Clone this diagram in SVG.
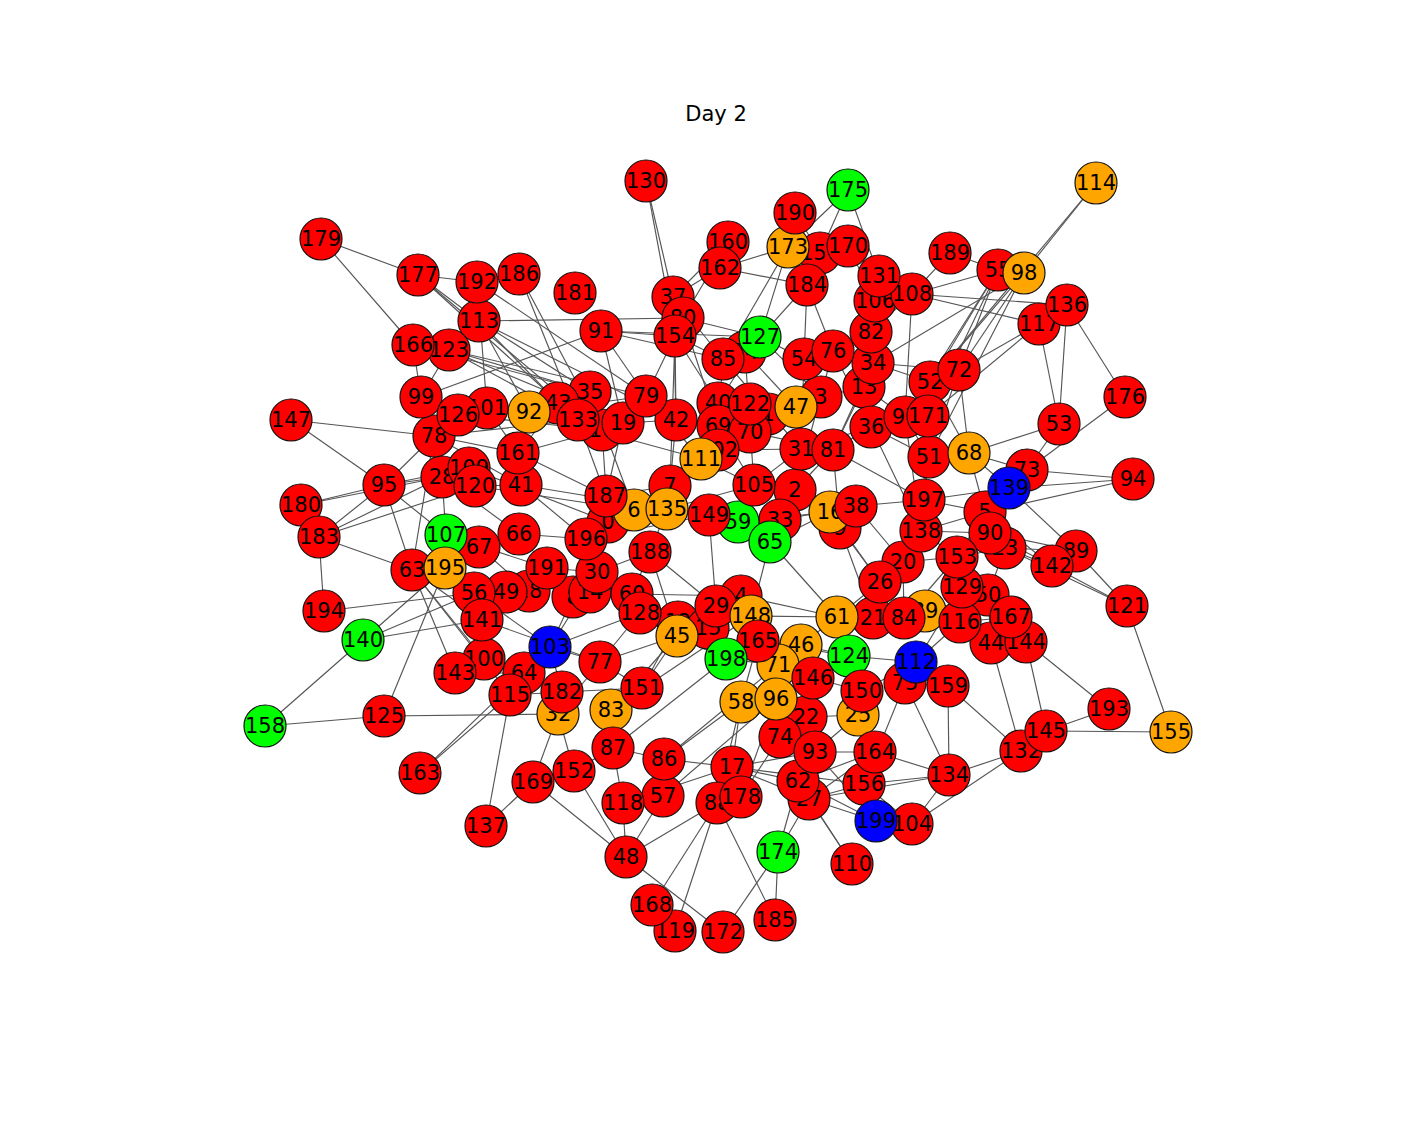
<svg xmlns="http://www.w3.org/2000/svg" width="1401" height="1121" viewBox="0 0 1401 1121">
<style>
.e line{stroke:#555;stroke-width:1.15}
.n circle{stroke:#111;stroke-width:1.2}
.n text{font-family:"DejaVu Sans",sans-serif;font-size:21px;text-anchor:middle;dominant-baseline:central;fill:#000}
.r{fill:#ff0000}.o{fill:#ffa500}.g{fill:#00ff00}.b{fill:#0000ff}
.t{font-family:"DejaVu Sans",sans-serif;font-size:21px;text-anchor:middle;dominant-baseline:central}
</style>
<rect width="1401" height="1121" fill="#fff"/>
<text class="t" x="716" y="114">Day 2</text>
<g class="e" id="edges">
<line x1="321" y1="239" x2="418" y2="275"/><line x1="321" y1="239" x2="413" y2="345"/><line x1="418" y1="275" x2="477" y2="282"/><line x1="418" y1="275" x2="479" y2="321"/><line x1="418" y1="275" x2="578" y2="420"/><line x1="418" y1="275" x2="602" y2="430"/><line x1="413" y1="345" x2="421" y2="397"/><line x1="449" y1="350" x2="421" y2="397"/><line x1="449" y1="350" x2="646" y2="396"/><line x1="449" y1="350" x2="590" y2="392"/><line x1="421" y1="397" x2="601" y2="331"/><line x1="291" y1="420" x2="434" y2="436"/><line x1="291" y1="420" x2="384" y2="485"/><line x1="646" y1="181" x2="673" y2="297"/><line x1="646" y1="181" x2="675" y2="336"/><line x1="519" y1="274" x2="477" y2="282"/><line x1="519" y1="274" x2="602" y2="430"/><line x1="479" y1="321" x2="683" y2="318"/><line x1="479" y1="321" x2="558" y2="403"/><line x1="479" y1="321" x2="529" y2="412"/><line x1="477" y1="282" x2="487" y2="408"/><line x1="601" y1="331" x2="675" y2="336"/><line x1="601" y1="331" x2="646" y2="396"/><line x1="601" y1="331" x2="623" y2="423"/><line x1="519" y1="274" x2="578" y2="420"/><line x1="848" y1="190" x2="788" y2="247"/><line x1="848" y1="190" x2="879" y2="276"/><line x1="950" y1="253" x2="912" y2="294"/><line x1="807" y1="285" x2="804" y2="359"/><line x1="807" y1="285" x2="833" y2="351"/><line x1="807" y1="285" x2="720" y2="268"/><line x1="807" y1="285" x2="788" y2="247"/><line x1="912" y1="294" x2="905" y2="417"/><line x1="912" y1="294" x2="1039" y2="324"/><line x1="912" y1="294" x2="998" y2="270"/><line x1="1096" y1="183" x2="1024" y2="273"/><line x1="1096" y1="183" x2="930" y2="382"/><line x1="998" y1="270" x2="950" y2="253"/><line x1="1024" y1="273" x2="959" y2="370"/><line x1="1024" y1="273" x2="930" y2="382"/><line x1="998" y1="270" x2="928" y2="416"/><line x1="1067" y1="305" x2="1039" y2="324"/><line x1="1067" y1="305" x2="1059" y2="424"/><line x1="1039" y1="324" x2="1059" y2="424"/><line x1="1067" y1="305" x2="1125" y2="397"/><line x1="1125" y1="397" x2="1027" y2="470"/><line x1="1039" y1="324" x2="959" y2="370"/>
<line x1="384" y1="485" x2="301" y2="505"/><line x1="384" y1="485" x2="434" y2="436"/><line x1="384" y1="485" x2="319" y2="537"/><line x1="384" y1="485" x2="412" y2="570"/><line x1="384" y1="485" x2="446" y2="535"/><line x1="384" y1="485" x2="442" y2="477"/><line x1="319" y1="537" x2="324" y2="611"/><line x1="319" y1="537" x2="412" y2="570"/><line x1="319" y1="537" x2="442" y2="477"/><line x1="412" y1="570" x2="434" y2="436"/><line x1="324" y1="611" x2="474" y2="593"/><line x1="363" y1="640" x2="445" y2="568"/><line x1="363" y1="640" x2="482" y2="620"/><line x1="363" y1="640" x2="265" y2="726"/><line x1="412" y1="570" x2="455" y2="673"/><line x1="412" y1="570" x2="484" y2="659"/><line x1="412" y1="570" x2="510" y2="695"/><line x1="384" y1="716" x2="445" y2="568"/><line x1="265" y1="726" x2="384" y2="716"/><line x1="384" y1="716" x2="558" y2="714"/><line x1="420" y1="773" x2="524" y2="673"/><line x1="420" y1="773" x2="510" y2="695"/><line x1="510" y1="695" x2="486" y2="826"/><line x1="486" y1="826" x2="533" y2="782"/><line x1="533" y1="782" x2="558" y2="714"/><line x1="533" y1="782" x2="626" y2="857"/><line x1="574" y1="771" x2="558" y2="714"/><line x1="574" y1="771" x2="626" y2="857"/><line x1="613" y1="748" x2="611" y2="710"/><line x1="613" y1="748" x2="623" y2="803"/><line x1="626" y1="857" x2="623" y2="803"/><line x1="626" y1="857" x2="663" y2="796"/><line x1="626" y1="857" x2="717" y2="803"/><line x1="626" y1="857" x2="723" y2="932"/><line x1="652" y1="905" x2="717" y2="803"/><line x1="675" y1="931" x2="717" y2="803"/><line x1="664" y1="759" x2="663" y2="796"/><line x1="664" y1="759" x2="732" y2="767"/><line x1="778" y1="852" x2="809" y2="799"/><line x1="778" y1="852" x2="798" y2="781"/><line x1="778" y1="852" x2="775" y2="920"/><line x1="778" y1="852" x2="723" y2="932"/><line x1="775" y1="920" x2="717" y2="803"/><line x1="852" y1="864" x2="809" y2="799"/><line x1="876" y1="821" x2="809" y2="799"/><line x1="876" y1="821" x2="798" y2="781"/><line x1="876" y1="821" x2="912" y2="824"/><line x1="912" y1="824" x2="949" y2="775"/><line x1="949" y1="775" x2="905" y2="683"/><line x1="949" y1="775" x2="875" y2="752"/><line x1="864" y1="784" x2="905" y2="683"/><line x1="1021" y1="751" x2="949" y2="775"/><line x1="1021" y1="751" x2="912" y2="824"/><line x1="1021" y1="751" x2="1046" y2="731"/><line x1="1046" y1="731" x2="1109" y2="709"/><line x1="1046" y1="731" x2="1171" y2="732"/><line x1="1021" y1="751" x2="991" y2="643"/><line x1="1046" y1="731" x2="1026" y2="642"/><line x1="1171" y1="732" x2="1127" y2="606"/><line x1="1109" y1="709" x2="1026" y2="642"/>
<line x1="969" y1="453" x2="1059" y2="424"/><line x1="969" y1="453" x2="1027" y2="470"/><line x1="969" y1="453" x2="985" y2="512"/><line x1="1027" y1="470" x2="1059" y2="424"/><line x1="1027" y1="470" x2="1133" y2="479"/><line x1="1009" y1="488" x2="1133" y2="479"/><line x1="1009" y1="488" x2="985" y2="512"/><line x1="1076" y1="551" x2="1009" y2="488"/><line x1="1052" y1="566" x2="1127" y2="606"/><line x1="1076" y1="551" x2="1127" y2="606"/><line x1="1005" y1="548" x2="1127" y2="606"/><line x1="1076" y1="551" x2="990" y2="533"/><line x1="1052" y1="566" x2="990" y2="533"/>
<line x1="673" y1="297" x2="683" y2="318"/><line x1="673" y1="297" x2="720" y2="268"/><line x1="673" y1="297" x2="728" y2="242"/><line x1="673" y1="297" x2="723" y2="359"/><line x1="683" y1="318" x2="760" y2="337"/><line x1="675" y1="336" x2="646" y2="396"/><line x1="675" y1="336" x2="676" y2="420"/><line x1="675" y1="336" x2="718" y2="403"/><line x1="720" y1="268" x2="788" y2="247"/><line x1="728" y1="242" x2="683" y2="318"/><line x1="788" y1="247" x2="760" y2="337"/><line x1="788" y1="247" x2="723" y2="359"/><line x1="760" y1="337" x2="804" y2="359"/><line x1="760" y1="337" x2="718" y2="403"/><line x1="820" y1="253" x2="848" y2="246"/><line x1="820" y1="253" x2="807" y2="285"/><line x1="848" y1="246" x2="875" y2="301"/><line x1="879" y1="276" x2="912" y2="294"/><line x1="875" y1="301" x2="871" y2="332"/><line x1="871" y1="332" x2="833" y2="351"/><line x1="871" y1="332" x2="864" y2="387"/><line x1="873" y1="363" x2="930" y2="382"/><line x1="873" y1="363" x2="959" y2="370"/><line x1="864" y1="387" x2="871" y2="427"/><line x1="864" y1="387" x2="821" y2="397"/><line x1="821" y1="397" x2="796" y2="407"/><line x1="796" y1="407" x2="750" y2="404"/><line x1="796" y1="407" x2="750" y2="432"/><line x1="796" y1="407" x2="801" y2="449"/><line x1="804" y1="359" x2="821" y2="397"/><line x1="833" y1="351" x2="871" y2="427"/><line x1="871" y1="427" x2="833" y2="450"/><line x1="871" y1="427" x2="905" y2="417"/><line x1="930" y1="382" x2="928" y2="416"/><line x1="959" y1="370" x2="929" y2="457"/><line x1="930" y1="382" x2="969" y2="453"/><line x1="905" y1="417" x2="929" y2="457"/><line x1="929" y1="457" x2="924" y2="500"/><line x1="929" y1="457" x2="969" y2="453"/><line x1="924" y1="500" x2="921" y2="531"/><line x1="924" y1="500" x2="985" y2="512"/><line x1="921" y1="531" x2="903" y2="562"/><line x1="921" y1="531" x2="957" y2="557"/><line x1="903" y1="562" x2="880" y2="582"/><line x1="957" y1="557" x2="962" y2="587"/><line x1="962" y1="587" x2="960" y2="622"/><line x1="960" y1="622" x2="1011" y2="617"/><line x1="1011" y1="617" x2="991" y2="643"/><line x1="1011" y1="617" x2="1026" y2="642"/><line x1="988" y1="595" x2="1005" y2="548"/><line x1="985" y1="512" x2="957" y2="557"/><line x1="873" y1="618" x2="904" y2="618"/><line x1="837" y1="617" x2="873" y2="618"/><line x1="837" y1="617" x2="849" y2="656"/><line x1="849" y1="656" x2="916" y2="662"/><line x1="916" y1="662" x2="905" y2="683"/><line x1="916" y1="662" x2="948" y2="686"/><line x1="862" y1="691" x2="849" y2="656"/><line x1="862" y1="691" x2="858" y2="715"/><line x1="858" y1="715" x2="875" y2="752"/><line x1="875" y1="752" x2="864" y2="784"/><line x1="815" y1="752" x2="875" y2="752"/><line x1="815" y1="752" x2="798" y2="781"/><line x1="806" y1="717" x2="815" y2="752"/><line x1="806" y1="717" x2="780" y2="737"/><line x1="780" y1="737" x2="776" y2="699"/><line x1="741" y1="702" x2="732" y2="767"/><line x1="732" y1="767" x2="741" y2="797"/><line x1="732" y1="767" x2="798" y2="781"/><line x1="732" y1="767" x2="809" y2="799"/><line x1="663" y1="796" x2="623" y2="803"/><line x1="664" y1="759" x2="613" y2="748"/><line x1="613" y1="748" x2="574" y2="771"/><line x1="611" y1="710" x2="642" y2="688"/><line x1="642" y1="688" x2="600" y2="662"/><line x1="600" y1="662" x2="550" y2="647"/><line x1="550" y1="647" x2="524" y2="673"/><line x1="510" y1="695" x2="562" y2="692"/><line x1="562" y1="692" x2="642" y2="688"/><line x1="524" y1="673" x2="484" y2="659"/><line x1="484" y1="659" x2="455" y2="673"/><line x1="484" y1="659" x2="482" y2="620"/><line x1="482" y1="620" x2="474" y2="593"/><line x1="529" y1="591" x2="547" y2="568"/><line x1="547" y1="568" x2="519" y2="534"/><line x1="479" y1="547" x2="446" y2="535"/><line x1="446" y1="535" x2="442" y2="477"/><line x1="469" y1="468" x2="475" y2="486"/><line x1="475" y1="486" x2="521" y2="485"/><line x1="521" y1="485" x2="518" y2="453"/><line x1="518" y1="453" x2="487" y2="408"/><line x1="487" y1="408" x2="458" y2="415"/><line x1="458" y1="415" x2="434" y2="436"/><line x1="458" y1="415" x2="529" y2="412"/><line x1="578" y1="420" x2="590" y2="392"/><line x1="590" y1="392" x2="602" y2="430"/><line x1="623" y1="423" x2="646" y2="396"/><line x1="646" y1="396" x2="676" y2="420"/><line x1="676" y1="420" x2="718" y2="426"/><line x1="718" y1="426" x2="718" y2="403"/><line x1="750" y1="404" x2="750" y2="432"/><line x1="750" y1="432" x2="718" y2="450"/><line x1="718" y1="450" x2="701" y2="459"/><line x1="701" y1="459" x2="670" y2="486"/><line x1="634" y1="510" x2="606" y2="496"/><line x1="606" y1="496" x2="608" y2="522"/><line x1="608" y1="522" x2="586" y2="539"/><line x1="586" y1="539" x2="597" y2="572"/><line x1="597" y1="572" x2="590" y2="592"/><line x1="590" y1="592" x2="573" y2="597"/><line x1="573" y1="597" x2="547" y2="568"/><line x1="597" y1="572" x2="632" y2="594"/><line x1="632" y1="594" x2="640" y2="613"/><line x1="640" y1="613" x2="677" y2="636"/><line x1="678" y1="622" x2="708" y2="628"/><line x1="708" y1="628" x2="716" y2="606"/><line x1="716" y1="606" x2="741" y2="596"/><line x1="741" y1="596" x2="751" y2="616"/><line x1="751" y1="616" x2="758" y2="641"/><line x1="758" y1="641" x2="801" y2="645"/><line x1="801" y1="645" x2="778" y2="665"/><line x1="778" y1="665" x2="726" y2="659"/><line x1="726" y1="659" x2="677" y2="636"/><line x1="813" y1="678" x2="801" y2="645"/><line x1="813" y1="678" x2="806" y2="717"/><line x1="813" y1="678" x2="862" y2="691"/><line x1="837" y1="617" x2="801" y2="645"/><line x1="837" y1="617" x2="751" y2="616"/><line x1="770" y1="542" x2="780" y2="520"/><line x1="780" y1="520" x2="795" y2="490"/><line x1="795" y1="490" x2="754" y2="485"/><line x1="754" y1="485" x2="738" y2="522"/><line x1="738" y1="522" x2="709" y2="515"/><line x1="709" y1="515" x2="667" y2="509"/><line x1="770" y1="542" x2="830" y2="512"/><line x1="856" y1="506" x2="840" y2="528"/><line x1="840" y1="528" x2="833" y2="450"/><line x1="801" y1="449" x2="833" y2="450"/><line x1="801" y1="449" x2="795" y2="490"/><line x1="754" y1="485" x2="801" y2="449"/><line x1="650" y1="552" x2="667" y2="509"/><line x1="650" y1="552" x2="632" y2="594"/><line x1="650" y1="552" x2="716" y2="606"/>
<line x1="529" y1="412" x2="646" y2="396"/><line x1="529" y1="412" x2="701" y2="459"/><line x1="487" y1="408" x2="623" y2="423"/><line x1="458" y1="415" x2="602" y2="430"/><line x1="434" y1="436" x2="578" y2="420"/><line x1="518" y1="453" x2="606" y2="496"/><line x1="518" y1="453" x2="602" y2="430"/><line x1="521" y1="485" x2="586" y2="539"/><line x1="521" y1="485" x2="667" y2="509"/><line x1="475" y1="486" x2="634" y2="510"/><line x1="469" y1="468" x2="608" y2="522"/><line x1="442" y1="477" x2="519" y2="534"/><line x1="446" y1="535" x2="547" y2="568"/><line x1="445" y1="568" x2="474" y2="593"/><line x1="445" y1="568" x2="506" y2="592"/><line x1="479" y1="547" x2="529" y2="591"/><line x1="519" y1="534" x2="586" y2="539"/><line x1="412" y1="570" x2="482" y2="620"/><line x1="474" y1="593" x2="550" y2="647"/><line x1="482" y1="620" x2="600" y2="662"/><line x1="455" y1="673" x2="524" y2="673"/><line x1="550" y1="647" x2="640" y2="613"/><line x1="550" y1="647" x2="597" y2="572"/><line x1="600" y1="662" x2="640" y2="613"/><line x1="600" y1="662" x2="677" y2="636"/><line x1="642" y1="688" x2="677" y2="636"/><line x1="642" y1="688" x2="678" y2="622"/><line x1="611" y1="710" x2="677" y2="636"/><line x1="611" y1="710" x2="751" y2="616"/><line x1="558" y1="714" x2="600" y2="662"/><line x1="562" y1="692" x2="550" y2="647"/><line x1="613" y1="748" x2="726" y2="659"/><line x1="664" y1="759" x2="741" y2="702"/><line x1="664" y1="759" x2="778" y2="665"/><line x1="663" y1="796" x2="776" y2="699"/><line x1="623" y1="803" x2="732" y2="767"/><line x1="717" y1="803" x2="741" y2="702"/><line x1="741" y1="797" x2="776" y2="699"/><line x1="741" y1="797" x2="780" y2="737"/><line x1="732" y1="767" x2="815" y2="752"/><line x1="732" y1="767" x2="864" y2="784"/><line x1="798" y1="781" x2="875" y2="752"/><line x1="809" y1="799" x2="864" y2="784"/><line x1="809" y1="799" x2="949" y2="775"/><line x1="815" y1="752" x2="858" y2="715"/><line x1="780" y1="737" x2="813" y2="678"/><line x1="806" y1="717" x2="858" y2="715"/><line x1="776" y1="699" x2="813" y2="678"/><line x1="741" y1="702" x2="758" y2="641"/><line x1="726" y1="659" x2="751" y2="616"/><line x1="726" y1="659" x2="678" y2="622"/><line x1="778" y1="665" x2="806" y2="717"/><line x1="758" y1="641" x2="849" y2="656"/><line x1="801" y1="645" x2="849" y2="656"/><line x1="741" y1="596" x2="837" y2="617"/><line x1="716" y1="606" x2="709" y2="515"/><line x1="708" y1="628" x2="751" y2="616"/><line x1="678" y1="622" x2="632" y2="594"/><line x1="677" y1="636" x2="650" y2="552"/><line x1="640" y1="613" x2="708" y2="628"/><line x1="632" y1="594" x2="741" y2="596"/><line x1="597" y1="572" x2="650" y2="552"/><line x1="590" y1="592" x2="632" y2="594"/><line x1="573" y1="597" x2="550" y2="647"/><line x1="547" y1="568" x2="597" y2="572"/><line x1="586" y1="539" x2="709" y2="515"/><line x1="608" y1="522" x2="667" y2="509"/><line x1="606" y1="496" x2="670" y2="486"/><line x1="634" y1="510" x2="709" y2="515"/><line x1="667" y1="509" x2="754" y2="485"/><line x1="670" y1="486" x2="718" y2="450"/><line x1="701" y1="459" x2="754" y2="485"/><line x1="709" y1="515" x2="770" y2="542"/><line x1="738" y1="522" x2="780" y2="520"/><line x1="738" y1="522" x2="830" y2="512"/><line x1="770" y1="542" x2="837" y2="617"/><line x1="770" y1="542" x2="751" y2="616"/><line x1="780" y1="520" x2="856" y2="506"/><line x1="795" y1="490" x2="830" y2="512"/><line x1="795" y1="490" x2="833" y2="450"/><line x1="830" y1="512" x2="880" y2="582"/><line x1="856" y1="506" x2="903" y2="562"/><line x1="856" y1="506" x2="924" y2="500"/><line x1="840" y1="528" x2="880" y2="582"/><line x1="840" y1="528" x2="873" y2="618"/><line x1="833" y1="450" x2="924" y2="500"/><line x1="833" y1="450" x2="864" y2="387"/><line x1="871" y1="427" x2="921" y2="531"/><line x1="871" y1="427" x2="929" y2="457"/><line x1="801" y1="449" x2="871" y2="427"/><line x1="718" y1="450" x2="801" y2="449"/><line x1="750" y1="432" x2="833" y2="450"/><line x1="750" y1="404" x2="821" y2="397"/><line x1="718" y1="403" x2="796" y2="407"/><line x1="718" y1="426" x2="754" y2="485"/><line x1="676" y1="420" x2="670" y2="486"/><line x1="646" y1="396" x2="701" y2="459"/><line x1="623" y1="423" x2="606" y2="496"/><line x1="602" y1="430" x2="608" y2="522"/><line x1="590" y1="392" x2="634" y2="510"/><line x1="578" y1="420" x2="606" y2="496"/><line x1="558" y1="403" x2="518" y2="453"/><line x1="558" y1="403" x2="602" y2="430"/><line x1="623" y1="423" x2="676" y2="420"/><line x1="601" y1="331" x2="723" y2="359"/><line x1="601" y1="331" x2="760" y2="337"/><line x1="479" y1="321" x2="590" y2="392"/><line x1="479" y1="321" x2="676" y2="420"/><line x1="477" y1="282" x2="646" y2="396"/><line x1="449" y1="350" x2="623" y2="423"/><line x1="449" y1="350" x2="578" y2="420"/><line x1="413" y1="345" x2="590" y2="392"/><line x1="421" y1="397" x2="602" y2="430"/><line x1="434" y1="436" x2="521" y2="485"/><line x1="434" y1="436" x2="518" y2="453"/><line x1="384" y1="485" x2="469" y2="468"/><line x1="301" y1="505" x2="442" y2="477"/><line x1="319" y1="537" x2="475" y2="486"/><line x1="675" y1="336" x2="670" y2="486"/><line x1="673" y1="297" x2="676" y2="420"/><line x1="683" y1="318" x2="718" y2="426"/><line x1="723" y1="359" x2="718" y2="426"/><line x1="723" y1="359" x2="801" y2="449"/><line x1="760" y1="337" x2="821" y2="397"/><line x1="745" y1="352" x2="796" y2="407"/><line x1="745" y1="352" x2="754" y2="485"/><line x1="804" y1="359" x2="801" y2="449"/><line x1="833" y1="351" x2="795" y2="490"/><line x1="873" y1="363" x2="833" y2="450"/><line x1="871" y1="332" x2="871" y2="427"/><line x1="864" y1="387" x2="905" y2="417"/><line x1="930" y1="382" x2="905" y2="417"/><line x1="959" y1="370" x2="969" y2="453"/><line x1="928" y1="416" x2="924" y2="500"/><line x1="905" y1="417" x2="921" y2="531"/><line x1="912" y1="294" x2="871" y2="332"/><line x1="879" y1="276" x2="873" y2="363"/><line x1="875" y1="301" x2="864" y2="387"/><line x1="807" y1="285" x2="760" y2="337"/><line x1="795" y1="213" x2="788" y2="247"/><line x1="795" y1="213" x2="820" y2="253"/><line x1="848" y1="190" x2="820" y2="253"/><line x1="795" y1="213" x2="807" y2="285"/><line x1="998" y1="270" x2="959" y2="370"/><line x1="998" y1="270" x2="930" y2="382"/><line x1="1024" y1="273" x2="873" y2="363"/><line x1="1024" y1="273" x2="929" y2="457"/><line x1="998" y1="270" x2="905" y2="417"/><line x1="1039" y1="324" x2="928" y2="416"/><line x1="912" y1="294" x2="1067" y2="305"/><line x1="969" y1="453" x2="1009" y2="488"/><line x1="1027" y1="470" x2="1009" y2="488"/><line x1="924" y1="500" x2="1009" y2="488"/><line x1="921" y1="531" x2="985" y2="512"/><line x1="990" y1="533" x2="921" y2="531"/><line x1="1005" y1="548" x2="957" y2="557"/><line x1="1052" y1="566" x2="1005" y2="548"/><line x1="1052" y1="566" x2="1076" y2="551"/><line x1="1076" y1="551" x2="1005" y2="548"/><line x1="1052" y1="566" x2="985" y2="512"/><line x1="1133" y1="479" x2="985" y2="512"/><line x1="1026" y1="642" x2="991" y2="643"/><line x1="991" y1="643" x2="988" y2="595"/><line x1="1011" y1="617" x2="988" y2="595"/><line x1="960" y1="622" x2="916" y2="662"/><line x1="962" y1="587" x2="916" y2="662"/><line x1="957" y1="557" x2="904" y2="618"/><line x1="903" y1="562" x2="904" y2="618"/><line x1="880" y1="582" x2="837" y2="617"/><line x1="921" y1="531" x2="880" y2="582"/><line x1="948" y1="686" x2="949" y2="775"/><line x1="916" y1="662" x2="862" y2="691"/><line x1="948" y1="686" x2="1021" y2="751"/><line x1="798" y1="781" x2="852" y2="864"/><line x1="864" y1="784" x2="949" y2="775"/><line x1="876" y1="821" x2="815" y2="752"/><line x1="809" y1="799" x2="875" y2="752"/><line x1="912" y1="824" x2="864" y2="784"/><line x1="412" y1="570" x2="474" y2="593"/><line x1="445" y1="568" x2="479" y2="547"/><line x1="445" y1="568" x2="484" y2="659"/><line x1="363" y1="640" x2="474" y2="593"/><line x1="925" y1="611" x2="960" y2="622"/><line x1="904" y1="618" x2="925" y2="611"/><line x1="990" y1="533" x2="1005" y2="548"/><line x1="985" y1="512" x2="990" y2="533"/><line x1="903" y1="562" x2="957" y2="557"/><line x1="962" y1="587" x2="988" y2="595"/><line x1="991" y1="643" x2="960" y2="622"/><line x1="905" y1="683" x2="948" y2="686"/><line x1="880" y1="582" x2="873" y2="618"/><line x1="830" y1="512" x2="856" y2="506"/><line x1="804" y1="359" x2="833" y2="351"/><line x1="871" y1="332" x2="873" y2="363"/><line x1="873" y1="363" x2="864" y2="387"/><line x1="928" y1="416" x2="929" y2="457"/><line x1="678" y1="622" x2="677" y2="636"/><line x1="474" y1="593" x2="506" y2="592"/><line x1="506" y1="592" x2="529" y2="591"/><line x1="519" y1="534" x2="479" y2="547"/><line x1="442" y1="477" x2="469" y2="468"/><line x1="529" y1="412" x2="558" y2="403"/><line x1="558" y1="403" x2="578" y2="420"/><line x1="602" y1="430" x2="623" y2="423"/><line x1="718" y1="403" x2="750" y2="404"/><line x1="670" y1="486" x2="667" y2="509"/><line x1="667" y1="509" x2="634" y2="510"/><line x1="675" y1="336" x2="723" y2="359"/><line x1="683" y1="318" x2="675" y2="336"/><line x1="760" y1="337" x2="723" y2="359"/><line x1="760" y1="337" x2="745" y2="352"/><line x1="848" y1="246" x2="879" y2="276"/><line x1="776" y1="699" x2="741" y2="702"/><line x1="741" y1="797" x2="717" y2="803"/><line x1="717" y1="803" x2="732" y2="767"/><line x1="768" y1="414" x2="750" y2="404"/>
</g>
<g id="n0" class="n"><circle class="r" cx="608" cy="522" r="21"/><text x="608" y="522">0</text></g>
<g id="n1" class="n"><circle class="r" cx="768" cy="414" r="21"/><text x="768" y="414">1</text></g>
<g id="n2" class="n"><circle class="r" cx="795" cy="490" r="21"/><text x="795" y="490">2</text></g>
<g id="n3" class="n"><circle class="r" cx="821" cy="397" r="21"/><text x="821" y="397">3</text></g>
<g id="n4" class="n"><circle class="r" cx="741" cy="596" r="21"/><text x="741" y="596">4</text></g>
<g id="n5" class="n"><circle class="r" cx="985" cy="512" r="21"/><text x="985" y="512">5</text></g>
<g id="n6" class="n"><circle class="o" cx="634" cy="510" r="21"/><text x="634" y="510">6</text></g>
<g id="n7" class="n"><circle class="r" cx="670" cy="486" r="21"/><text x="670" y="486">7</text></g>
<g id="n8" class="n"><circle class="r" cx="573" cy="597" r="21"/><text x="573" y="597">8</text></g>
<g id="n9" class="n"><circle class="r" cx="840" cy="528" r="21"/><text x="840" y="528">9</text></g>
<g id="n10" class="n"><circle class="r" cx="602" cy="430" r="21"/><text x="602" y="430">10</text></g>
<g id="n12" class="n"><circle class="r" cx="678" cy="622" r="21"/><text x="678" y="622">12</text></g>
<g id="n13" class="n"><circle class="r" cx="864" cy="387" r="21"/><text x="864" y="387">13</text></g>
<g id="n14" class="n"><circle class="r" cx="590" cy="592" r="21"/><text x="590" y="592">14</text></g>
<g id="n15" class="n"><circle class="r" cx="708" cy="628" r="21"/><text x="708" y="628">15</text></g>
<g id="n16" class="n"><circle class="o" cx="830" cy="512" r="21"/><text x="830" y="512">16</text></g>
<g id="n17" class="n"><circle class="r" cx="732" cy="767" r="21"/><text x="732" y="767">17</text></g>
<g id="n18" class="n"><circle class="r" cx="529" cy="591" r="21"/><text x="529" y="591">18</text></g>
<g id="n19" class="n"><circle class="r" cx="623" cy="423" r="21"/><text x="623" y="423">19</text></g>
<g id="n20" class="n"><circle class="r" cx="903" cy="562" r="21"/><text x="903" y="562">20</text></g>
<g id="n21" class="n"><circle class="r" cx="873" cy="618" r="21"/><text x="873" y="618">21</text></g>
<g id="n22" class="n"><circle class="r" cx="806" cy="717" r="21"/><text x="806" y="717">22</text></g>
<g id="n23" class="n"><circle class="r" cx="1005" cy="548" r="21"/><text x="1005" y="548">23</text></g>
<g id="n24" class="n"><circle class="r" cx="745" cy="352" r="21"/><text x="745" y="352">24</text></g>
<g id="n25" class="n"><circle class="o" cx="858" cy="715" r="21"/><text x="858" y="715">25</text></g>
<g id="n26" class="n"><circle class="r" cx="880" cy="582" r="21"/><text x="880" y="582">26</text></g>
<g id="n27" class="n"><circle class="r" cx="809" cy="799" r="21"/><text x="809" y="799">27</text></g>
<g id="n28" class="n"><circle class="r" cx="442" cy="477" r="21"/><text x="442" y="477">28</text></g>
<g id="n29" class="n"><circle class="r" cx="716" cy="606" r="21"/><text x="716" y="606">29</text></g>
<g id="n30" class="n"><circle class="r" cx="597" cy="572" r="21"/><text x="597" y="572">30</text></g>
<g id="n31" class="n"><circle class="r" cx="801" cy="449" r="21"/><text x="801" y="449">31</text></g>
<g id="n32" class="n"><circle class="o" cx="558" cy="714" r="21"/><text x="558" y="714">32</text></g>
<g id="n33" class="n"><circle class="r" cx="780" cy="520" r="21"/><text x="780" y="520">33</text></g>
<g id="n34" class="n"><circle class="r" cx="873" cy="363" r="21"/><text x="873" y="363">34</text></g>
<g id="n35" class="n"><circle class="r" cx="590" cy="392" r="21"/><text x="590" y="392">35</text></g>
<g id="n36" class="n"><circle class="r" cx="871" cy="427" r="21"/><text x="871" y="427">36</text></g>
<g id="n37" class="n"><circle class="r" cx="673" cy="297" r="21"/><text x="673" y="297">37</text></g>
<g id="n38" class="n"><circle class="r" cx="856" cy="506" r="21"/><text x="856" y="506">38</text></g>
<g id="n39" class="n"><circle class="o" cx="925" cy="611" r="21"/><text x="925" y="611">39</text></g>
<g id="n40" class="n"><circle class="r" cx="718" cy="403" r="21"/><text x="718" y="403">40</text></g>
<g id="n41" class="n"><circle class="r" cx="521" cy="485" r="21"/><text x="521" y="485">41</text></g>
<g id="n42" class="n"><circle class="r" cx="676" cy="420" r="21"/><text x="676" y="420">42</text></g>
<g id="n43" class="n"><circle class="r" cx="558" cy="403" r="21"/><text x="558" y="403">43</text></g>
<g id="n44" class="n"><circle class="r" cx="991" cy="643" r="21"/><text x="991" y="643">44</text></g>
<g id="n45" class="n"><circle class="o" cx="677" cy="636" r="21"/><text x="677" y="636">45</text></g>
<g id="n46" class="n"><circle class="o" cx="801" cy="645" r="21"/><text x="801" y="645">46</text></g>
<g id="n47" class="n"><circle class="o" cx="796" cy="407" r="21"/><text x="796" y="407">47</text></g>
<g id="n48" class="n"><circle class="r" cx="626" cy="857" r="21"/><text x="626" y="857">48</text></g>
<g id="n49" class="n"><circle class="r" cx="506" cy="592" r="21"/><text x="506" y="592">49</text></g>
<g id="n50" class="n"><circle class="r" cx="988" cy="595" r="21"/><text x="988" y="595">50</text></g>
<g id="n51" class="n"><circle class="r" cx="929" cy="457" r="21"/><text x="929" y="457">51</text></g>
<g id="n52" class="n"><circle class="r" cx="930" cy="382" r="21"/><text x="930" y="382">52</text></g>
<g id="n53" class="n"><circle class="r" cx="1059" cy="424" r="21"/><text x="1059" y="424">53</text></g>
<g id="n54" class="n"><circle class="r" cx="804" cy="359" r="21"/><text x="804" y="359">54</text></g>
<g id="n55" class="n"><circle class="r" cx="998" cy="270" r="21"/><text x="998" y="270">55</text></g>
<g id="n56" class="n"><circle class="r" cx="474" cy="593" r="21"/><text x="474" y="593">56</text></g>
<g id="n57" class="n"><circle class="r" cx="663" cy="796" r="21"/><text x="663" y="796">57</text></g>
<g id="n58" class="n"><circle class="o" cx="741" cy="702" r="21"/><text x="741" y="702">58</text></g>
<g id="n59" class="n"><circle class="g" cx="738" cy="522" r="21"/><text x="738" y="522">59</text></g>
<g id="n60" class="n"><circle class="r" cx="632" cy="594" r="21"/><text x="632" y="594">60</text></g>
<g id="n61" class="n"><circle class="o" cx="837" cy="617" r="21"/><text x="837" y="617">61</text></g>
<g id="n62" class="n"><circle class="r" cx="798" cy="781" r="21"/><text x="798" y="781">62</text></g>
<g id="n63" class="n"><circle class="r" cx="412" cy="570" r="21"/><text x="412" y="570">63</text></g>
<g id="n64" class="n"><circle class="r" cx="524" cy="673" r="21"/><text x="524" y="673">64</text></g>
<g id="n65" class="n"><circle class="g" cx="770" cy="542" r="21"/><text x="770" y="542">65</text></g>
<g id="n66" class="n"><circle class="r" cx="519" cy="534" r="21"/><text x="519" y="534">66</text></g>
<g id="n67" class="n"><circle class="r" cx="479" cy="547" r="21"/><text x="479" y="547">67</text></g>
<g id="n68" class="n"><circle class="o" cx="969" cy="453" r="21"/><text x="969" y="453">68</text></g>
<g id="n69" class="n"><circle class="r" cx="718" cy="426" r="21"/><text x="718" y="426">69</text></g>
<g id="n70" class="n"><circle class="r" cx="750" cy="432" r="21"/><text x="750" y="432">70</text></g>
<g id="n71" class="n"><circle class="o" cx="778" cy="665" r="21"/><text x="778" y="665">71</text></g>
<g id="n72" class="n"><circle class="r" cx="959" cy="370" r="21"/><text x="959" y="370">72</text></g>
<g id="n73" class="n"><circle class="r" cx="1027" cy="470" r="21"/><text x="1027" y="470">73</text></g>
<g id="n74" class="n"><circle class="r" cx="780" cy="737" r="21"/><text x="780" y="737">74</text></g>
<g id="n75" class="n"><circle class="r" cx="905" cy="683" r="21"/><text x="905" y="683">75</text></g>
<g id="n76" class="n"><circle class="r" cx="833" cy="351" r="21"/><text x="833" y="351">76</text></g>
<g id="n77" class="n"><circle class="r" cx="600" cy="662" r="21"/><text x="600" y="662">77</text></g>
<g id="n78" class="n"><circle class="r" cx="434" cy="436" r="21"/><text x="434" y="436">78</text></g>
<g id="n79" class="n"><circle class="r" cx="646" cy="396" r="21"/><text x="646" y="396">79</text></g>
<g id="n80" class="n"><circle class="r" cx="683" cy="318" r="21"/><text x="683" y="318">80</text></g>
<g id="n81" class="n"><circle class="r" cx="833" cy="450" r="21"/><text x="833" y="450">81</text></g>
<g id="n82" class="n"><circle class="r" cx="871" cy="332" r="21"/><text x="871" y="332">82</text></g>
<g id="n83" class="n"><circle class="o" cx="611" cy="710" r="21"/><text x="611" y="710">83</text></g>
<g id="n84" class="n"><circle class="r" cx="904" cy="618" r="21"/><text x="904" y="618">84</text></g>
<g id="n85" class="n"><circle class="r" cx="723" cy="359" r="21"/><text x="723" y="359">85</text></g>
<g id="n86" class="n"><circle class="r" cx="664" cy="759" r="21"/><text x="664" y="759">86</text></g>
<g id="n87" class="n"><circle class="r" cx="613" cy="748" r="21"/><text x="613" y="748">87</text></g>
<g id="n88" class="n"><circle class="r" cx="717" cy="803" r="21"/><text x="717" y="803">88</text></g>
<g id="n89" class="n"><circle class="r" cx="1076" cy="551" r="21"/><text x="1076" y="551">89</text></g>
<g id="n90" class="n"><circle class="r" cx="990" cy="533" r="21"/><text x="990" y="533">90</text></g>
<g id="n91" class="n"><circle class="r" cx="601" cy="331" r="21"/><text x="601" y="331">91</text></g>
<g id="n92" class="n"><circle class="o" cx="529" cy="412" r="21"/><text x="529" y="412">92</text></g>
<g id="n93" class="n"><circle class="r" cx="815" cy="752" r="21"/><text x="815" y="752">93</text></g>
<g id="n94" class="n"><circle class="r" cx="1133" cy="479" r="21"/><text x="1133" y="479">94</text></g>
<g id="n95" class="n"><circle class="r" cx="384" cy="485" r="21"/><text x="384" y="485">95</text></g>
<g id="n96" class="n"><circle class="o" cx="776" cy="699" r="21"/><text x="776" y="699">96</text></g>
<g id="n97" class="n"><circle class="r" cx="905" cy="417" r="21"/><text x="905" y="417">97</text></g>
<g id="n98" class="n"><circle class="o" cx="1024" cy="273" r="21"/><text x="1024" y="273">98</text></g>
<g id="n99" class="n"><circle class="r" cx="421" cy="397" r="21"/><text x="421" y="397">99</text></g>
<g id="n100" class="n"><circle class="r" cx="484" cy="659" r="21"/><text x="484" y="659">100</text></g>
<g id="n101" class="n"><circle class="r" cx="487" cy="408" r="21"/><text x="487" y="408">101</text></g>
<g id="n102" class="n"><circle class="r" cx="718" cy="450" r="21"/><text x="718" y="450">102</text></g>
<g id="n103" class="n"><circle class="b" cx="550" cy="647" r="21"/><text x="550" y="647">103</text></g>
<g id="n104" class="n"><circle class="r" cx="912" cy="824" r="21"/><text x="912" y="824">104</text></g>
<g id="n105" class="n"><circle class="r" cx="754" cy="485" r="21"/><text x="754" y="485">105</text></g>
<g id="n106" class="n"><circle class="r" cx="875" cy="301" r="21"/><text x="875" y="301">106</text></g>
<g id="n107" class="n"><circle class="g" cx="446" cy="535" r="21"/><text x="446" y="535">107</text></g>
<g id="n108" class="n"><circle class="r" cx="912" cy="294" r="21"/><text x="912" y="294">108</text></g>
<g id="n109" class="n"><circle class="r" cx="469" cy="468" r="21"/><text x="469" y="468">109</text></g>
<g id="n110" class="n"><circle class="r" cx="852" cy="864" r="21"/><text x="852" y="864">110</text></g>
<g id="n111" class="n"><circle class="o" cx="701" cy="459" r="21"/><text x="701" y="459">111</text></g>
<g id="n112" class="n"><circle class="b" cx="916" cy="662" r="21"/><text x="916" y="662">112</text></g>
<g id="n113" class="n"><circle class="r" cx="479" cy="321" r="21"/><text x="479" y="321">113</text></g>
<g id="n114" class="n"><circle class="o" cx="1096" cy="183" r="21"/><text x="1096" y="183">114</text></g>
<g id="n115" class="n"><circle class="r" cx="510" cy="695" r="21"/><text x="510" y="695">115</text></g>
<g id="n116" class="n"><circle class="r" cx="960" cy="622" r="21"/><text x="960" y="622">116</text></g>
<g id="n117" class="n"><circle class="r" cx="1039" cy="324" r="21"/><text x="1039" y="324">117</text></g>
<g id="n118" class="n"><circle class="r" cx="623" cy="803" r="21"/><text x="623" y="803">118</text></g>
<g id="n119" class="n"><circle class="r" cx="675" cy="931" r="21"/><text x="675" y="931">119</text></g>
<g id="n120" class="n"><circle class="r" cx="475" cy="486" r="21"/><text x="475" y="486">120</text></g>
<g id="n121" class="n"><circle class="r" cx="1127" cy="606" r="21"/><text x="1127" y="606">121</text></g>
<g id="n122" class="n"><circle class="r" cx="750" cy="404" r="21"/><text x="750" y="404">122</text></g>
<g id="n123" class="n"><circle class="r" cx="449" cy="350" r="21"/><text x="449" y="350">123</text></g>
<g id="n124" class="n"><circle class="g" cx="849" cy="656" r="21"/><text x="849" y="656">124</text></g>
<g id="n125" class="n"><circle class="r" cx="384" cy="716" r="21"/><text x="384" y="716">125</text></g>
<g id="n126" class="n"><circle class="r" cx="458" cy="415" r="21"/><text x="458" y="415">126</text></g>
<g id="n127" class="n"><circle class="g" cx="760" cy="337" r="21"/><text x="760" y="337">127</text></g>
<g id="n128" class="n"><circle class="r" cx="640" cy="613" r="21"/><text x="640" y="613">128</text></g>
<g id="n129" class="n"><circle class="r" cx="962" cy="587" r="21"/><text x="962" y="587">129</text></g>
<g id="n130" class="n"><circle class="r" cx="646" cy="181" r="21"/><text x="646" y="181">130</text></g>
<g id="n131" class="n"><circle class="r" cx="879" cy="276" r="21"/><text x="879" y="276">131</text></g>
<g id="n132" class="n"><circle class="r" cx="1021" cy="751" r="21"/><text x="1021" y="751">132</text></g>
<g id="n133" class="n"><circle class="r" cx="578" cy="420" r="21"/><text x="578" y="420">133</text></g>
<g id="n134" class="n"><circle class="r" cx="949" cy="775" r="21"/><text x="949" y="775">134</text></g>
<g id="n135" class="n"><circle class="o" cx="667" cy="509" r="21"/><text x="667" y="509">135</text></g>
<g id="n136" class="n"><circle class="r" cx="1067" cy="305" r="21"/><text x="1067" y="305">136</text></g>
<g id="n137" class="n"><circle class="r" cx="486" cy="826" r="21"/><text x="486" y="826">137</text></g>
<g id="n138" class="n"><circle class="r" cx="921" cy="531" r="21"/><text x="921" y="531">138</text></g>
<g id="n139" class="n"><circle class="b" cx="1009" cy="488" r="21"/><text x="1009" y="488">139</text></g>
<g id="n140" class="n"><circle class="g" cx="363" cy="640" r="21"/><text x="363" y="640">140</text></g>
<g id="n141" class="n"><circle class="r" cx="482" cy="620" r="21"/><text x="482" y="620">141</text></g>
<g id="n142" class="n"><circle class="r" cx="1052" cy="566" r="21"/><text x="1052" y="566">142</text></g>
<g id="n143" class="n"><circle class="r" cx="455" cy="673" r="21"/><text x="455" y="673">143</text></g>
<g id="n144" class="n"><circle class="r" cx="1026" cy="642" r="21"/><text x="1026" y="642">144</text></g>
<g id="n145" class="n"><circle class="r" cx="1046" cy="731" r="21"/><text x="1046" y="731">145</text></g>
<g id="n146" class="n"><circle class="r" cx="813" cy="678" r="21"/><text x="813" y="678">146</text></g>
<g id="n147" class="n"><circle class="r" cx="291" cy="420" r="21"/><text x="291" y="420">147</text></g>
<g id="n148" class="n"><circle class="o" cx="751" cy="616" r="21"/><text x="751" y="616">148</text></g>
<g id="n149" class="n"><circle class="r" cx="709" cy="515" r="21"/><text x="709" y="515">149</text></g>
<g id="n150" class="n"><circle class="r" cx="862" cy="691" r="21"/><text x="862" y="691">150</text></g>
<g id="n151" class="n"><circle class="r" cx="642" cy="688" r="21"/><text x="642" y="688">151</text></g>
<g id="n152" class="n"><circle class="r" cx="574" cy="771" r="21"/><text x="574" y="771">152</text></g>
<g id="n153" class="n"><circle class="r" cx="957" cy="557" r="21"/><text x="957" y="557">153</text></g>
<g id="n154" class="n"><circle class="r" cx="675" cy="336" r="21"/><text x="675" y="336">154</text></g>
<g id="n155" class="n"><circle class="o" cx="1171" cy="732" r="21"/><text x="1171" y="732">155</text></g>
<g id="n156" class="n"><circle class="r" cx="864" cy="784" r="21"/><text x="864" y="784">156</text></g>
<g id="n157" class="n"><circle class="r" cx="820" cy="253" r="21"/><text x="820" y="253">157</text></g>
<g id="n158" class="n"><circle class="g" cx="265" cy="726" r="21"/><text x="265" y="726">158</text></g>
<g id="n159" class="n"><circle class="r" cx="948" cy="686" r="21"/><text x="948" y="686">159</text></g>
<g id="n160" class="n"><circle class="r" cx="728" cy="242" r="21"/><text x="728" y="242">160</text></g>
<g id="n161" class="n"><circle class="r" cx="518" cy="453" r="21"/><text x="518" y="453">161</text></g>
<g id="n162" class="n"><circle class="r" cx="720" cy="268" r="21"/><text x="720" y="268">162</text></g>
<g id="n163" class="n"><circle class="r" cx="420" cy="773" r="21"/><text x="420" y="773">163</text></g>
<g id="n164" class="n"><circle class="r" cx="875" cy="752" r="21"/><text x="875" y="752">164</text></g>
<g id="n165" class="n"><circle class="r" cx="758" cy="641" r="21"/><text x="758" y="641">165</text></g>
<g id="n166" class="n"><circle class="r" cx="413" cy="345" r="21"/><text x="413" y="345">166</text></g>
<g id="n167" class="n"><circle class="r" cx="1011" cy="617" r="21"/><text x="1011" y="617">167</text></g>
<g id="n168" class="n"><circle class="r" cx="652" cy="905" r="21"/><text x="652" y="905">168</text></g>
<g id="n169" class="n"><circle class="r" cx="533" cy="782" r="21"/><text x="533" y="782">169</text></g>
<g id="n170" class="n"><circle class="r" cx="848" cy="246" r="21"/><text x="848" y="246">170</text></g>
<g id="n171" class="n"><circle class="r" cx="928" cy="416" r="21"/><text x="928" y="416">171</text></g>
<g id="n172" class="n"><circle class="r" cx="723" cy="932" r="21"/><text x="723" y="932">172</text></g>
<g id="n173" class="n"><circle class="o" cx="788" cy="247" r="21"/><text x="788" y="247">173</text></g>
<g id="n174" class="n"><circle class="g" cx="778" cy="852" r="21"/><text x="778" y="852">174</text></g>
<g id="n175" class="n"><circle class="g" cx="848" cy="190" r="21"/><text x="848" y="190">175</text></g>
<g id="n176" class="n"><circle class="r" cx="1125" cy="397" r="21"/><text x="1125" y="397">176</text></g>
<g id="n177" class="n"><circle class="r" cx="418" cy="275" r="21"/><text x="418" y="275">177</text></g>
<g id="n178" class="n"><circle class="r" cx="741" cy="797" r="21"/><text x="741" y="797">178</text></g>
<g id="n179" class="n"><circle class="r" cx="321" cy="239" r="21"/><text x="321" y="239">179</text></g>
<g id="n180" class="n"><circle class="r" cx="301" cy="505" r="21"/><text x="301" y="505">180</text></g>
<g id="n181" class="n"><circle class="r" cx="575" cy="293" r="21"/><text x="575" y="293">181</text></g>
<g id="n182" class="n"><circle class="r" cx="562" cy="692" r="21"/><text x="562" y="692">182</text></g>
<g id="n183" class="n"><circle class="r" cx="319" cy="537" r="21"/><text x="319" y="537">183</text></g>
<g id="n184" class="n"><circle class="r" cx="807" cy="285" r="21"/><text x="807" y="285">184</text></g>
<g id="n185" class="n"><circle class="r" cx="775" cy="920" r="21"/><text x="775" y="920">185</text></g>
<g id="n186" class="n"><circle class="r" cx="519" cy="274" r="21"/><text x="519" y="274">186</text></g>
<g id="n187" class="n"><circle class="r" cx="606" cy="496" r="21"/><text x="606" y="496">187</text></g>
<g id="n188" class="n"><circle class="r" cx="650" cy="552" r="21"/><text x="650" y="552">188</text></g>
<g id="n189" class="n"><circle class="r" cx="950" cy="253" r="21"/><text x="950" y="253">189</text></g>
<g id="n190" class="n"><circle class="r" cx="795" cy="213" r="21"/><text x="795" y="213">190</text></g>
<g id="n191" class="n"><circle class="r" cx="547" cy="568" r="21"/><text x="547" y="568">191</text></g>
<g id="n192" class="n"><circle class="r" cx="477" cy="282" r="21"/><text x="477" y="282">192</text></g>
<g id="n193" class="n"><circle class="r" cx="1109" cy="709" r="21"/><text x="1109" y="709">193</text></g>
<g id="n194" class="n"><circle class="r" cx="324" cy="611" r="21"/><text x="324" y="611">194</text></g>
<g id="n195" class="n"><circle class="o" cx="445" cy="568" r="21"/><text x="445" y="568">195</text></g>
<g id="n196" class="n"><circle class="r" cx="586" cy="539" r="21"/><text x="586" y="539">196</text></g>
<g id="n197" class="n"><circle class="r" cx="924" cy="500" r="21"/><text x="924" y="500">197</text></g>
<g id="n198" class="n"><circle class="g" cx="726" cy="659" r="21"/><text x="726" y="659">198</text></g>
<g id="n199" class="n"><circle class="b" cx="876" cy="821" r="21"/><text x="876" y="821">199</text></g>
</svg>
